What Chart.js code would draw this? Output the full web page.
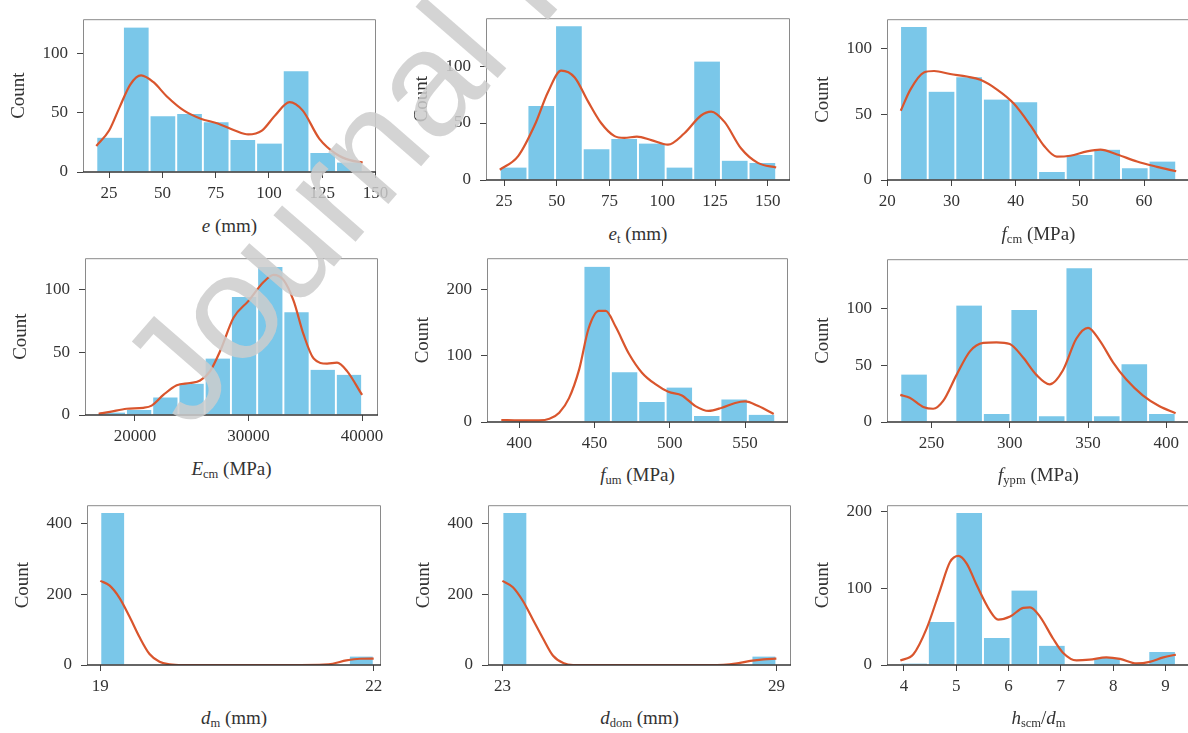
<!DOCTYPE html>
<html><head><meta charset="utf-8">
<script src="https://cdn.jsdelivr.net/npm/chart.js@4.4.0/dist/chart.umd.min.js"></script>
<style>
html,body{margin:0;padding:0;background:#fff;width:1188px;height:733px;overflow:hidden;position:relative;}
canvas{position:absolute;}
.xl{position:absolute;font-family:'Liberation Serif','Times New Roman',serif;font-size:19px;color:#333;white-space:nowrap;transform:translate(-50%,-50%);line-height:1;}
.xl sub{font-size:66%;vertical-align:-0.3em;line-height:0;}
#wm{position:absolute;left:0;top:0;pointer-events:none;}
</style></head><body>
<script>
// ---------- data ----------
const eCenters = [25.25, 37.75, 50.25, 62.75, 75.25, 87.75, 100.25, 112.75, 125.25, 137.75];
const eCounts  = [29, 122, 47, 49, 42, 27, 24, 85, 16, 8];
const eKdeX = [19, 25, 30, 35, 40, 45.7, 52, 60, 68, 76, 84, 90.3, 96.7, 103, 109.7, 115.8, 123.7, 131.7, 138, 144];
const eKdeY = [22, 35, 55, 74, 81.5, 76, 64, 52, 45, 41, 35, 31.7, 35, 48, 59, 52, 28, 15, 10, 8];
const eXTicks = [25, 50, 75, 100, 125, 150];
const eYTicks = [0, 50, 100];

const etCenters = [29.55, 42.65, 55.75, 68.85, 81.95, 95.05, 108.15, 121.25, 134.35, 147.45];
const etCounts  = [11, 65, 135, 27, 36, 32, 11, 104, 17, 15];
const etKdeX = [23, 31.6, 39.5, 45.8, 52.1, 58.5, 64.8, 71, 77.4, 82, 88, 94.8, 102.7, 110.5, 118.4, 123.2, 129.5, 137.4, 145.3, 154];
const etKdeY = [9, 20.7, 48, 77, 96, 90, 69, 50, 38.5, 37, 38, 35, 31, 41, 56.6, 60, 51, 27.6, 15, 11];
const etXTicks = [25, 50, 75, 100, 125, 150];
const etYTicks = [0, 50, 100];

const fcCenters = [24.15, 28.45, 32.75, 37.05, 41.35, 45.65, 49.95, 54.25, 58.55, 62.85];
const fcCounts  = [116, 67, 78, 61, 59, 6, 19, 23, 9, 14];
const fcKdeX = [22.1, 23.6, 25.7, 27.3, 29.8, 32.4, 34.5, 37.1, 39.7, 42.3, 44.4, 46.4, 48.5, 51.1, 53.2, 55.8, 58.9, 62, 65];
const fcKdeY = [52.5, 68.6, 81.6, 82.7, 80.4, 78.5, 76, 68.6, 58, 41.4, 26, 17.7, 18.4, 21.7, 23, 19.4, 14, 10, 6.6];
const fcXTicks = [20, 30, 40, 50, 60];
const fcYTicks = [0, 50, 100];

const ecCenters = [18055, 20365, 22675, 24985, 27295, 29605, 31915, 34225, 36535, 38845];
const ecCounts  = [2, 4, 14, 25, 45, 94, 118, 82, 36, 32];
const ecKdeX = [16800, 17794, 19265, 20735, 21470, 22500, 23676, 24853, 25735, 26618, 27500, 28676, 30000, 31323, 32206, 33088, 33970, 34853, 35735, 36912, 37794, 38676, 40000];
const ecKdeY = [1, 2.5, 5, 5.75, 7.5, 16, 23.75, 25.5, 27.5, 35, 51, 77.5, 91, 106, 111.75, 107.5, 91, 64, 45, 41, 41.75, 35, 16];
const ecXTicks = [20000, 30000, 40000];
const ecYTicks = [0, 50, 100];

const fuCenters = [397.1, 415.3, 433.5, 451.7, 469.9, 488.1, 506.3, 524.5, 542.7, 560.9];
const fuCounts  = [3, 0, 0, 234, 75, 30, 52, 9, 34, 11];
const fuKdeX = [388, 400, 413, 420, 426.5, 433, 439.7, 446, 452.9, 457.4, 464, 472.8, 481.6, 490.4, 499, 508, 517, 525.7, 534.6, 543.4, 550, 558.8, 569];
const fuKdeY = [3, 2.4, 2.4, 4.8, 14, 36, 79, 141, 167.5, 167.5, 143.5, 103, 74, 57, 45.5, 40, 24, 16.7, 21.5, 28.7, 31, 24, 12];
const fuXTicks = [400, 450, 500, 550];
const fuYTicks = [0, 100, 200];

const fyCenters = [238.8, 256.4, 274, 291.6, 309.2, 326.8, 344.4, 362, 379.6, 397.2];
const fyCounts  = [42, 0, 103, 7, 99, 5, 136, 5, 51, 7];
const fyKdeX = [230, 236, 244.7, 251, 257.4, 266, 274.5, 283, 291.5, 300, 308.5, 317, 325.5, 334, 342.5, 350, 357.4, 366, 374.5, 385, 395.7, 406];
const fyKdeY = [24, 21.4, 13.3, 11.7, 18.6, 41.7, 62.5, 70, 70.5, 69, 57, 41.7, 33.3, 45.8, 73.6, 83.3, 72.2, 52.8, 37.5, 23.6, 13.9, 7.8];
const fyXTicks = [250, 300, 350, 400];
const fyYTicks = [0, 50, 100];

const dmCenters = [19.136, 19.409, 19.682, 19.955, 20.227, 20.5, 20.773, 21.045, 21.318, 21.591, 21.864];
const dmCounts  = [430, 0, 0, 0, 0, 0, 0, 0, 0, 0, 24];
const dmKdeX = [19, 19.1, 19.21, 19.32, 19.43, 19.54, 19.65, 19.76, 19.9, 20.5, 21.2, 21.45, 21.55, 21.7, 21.85, 22];
const dmKdeY = [238, 225, 190, 137, 79, 31, 9, 2, 0, 0, 0, 1, 3.5, 13, 17.7, 18];
const dmXTicks = [19, 22];
const dmYTicks = [0, 200, 400];

const ddCenters = [23.273, 23.818, 24.364, 24.909, 25.455, 26, 26.545, 27.091, 27.636, 28.182, 28.727];
const ddCounts  = [430, 0, 0, 0, 0, 0, 0, 0, 0, 0, 24];
const ddKdeX = [23, 23.23, 23.45, 23.67, 23.89, 24.11, 24.33, 24.55, 25.5, 26.5, 27.5, 27.84, 28.14, 28.43, 28.72, 29];
const ddKdeY = [238, 220, 181, 128, 75, 26, 6, 0, 0, 0, 0, 0.5, 4.4, 11.5, 16, 18];
const ddXTicks = [23, 29];
const ddYTicks = [0, 200, 400];

const hrCenters = [4.1935, 4.7205, 5.2475, 5.7745, 6.3015, 6.8285, 7.3555, 7.8825, 8.4095, 8.9365];
const hrCounts  = [2, 56, 198, 35, 97, 25, 0, 9, 0, 17];
const hrKdeX = [3.93, 4.18, 4.43, 4.69, 4.88, 5.04, 5.2, 5.39, 5.64, 5.8, 6.03, 6.28, 6.41, 6.6, 6.85, 7.04, 7.3, 7.55, 7.87, 8.13, 8.45, 8.7, 8.96, 9.2];
const hrKdeY = [6, 14, 47, 97.6, 134, 142, 132, 104, 71, 59, 63, 74.4, 75, 63, 34.5, 16, 6, 7, 10, 8, 2, 4, 10, 13.4];
const hrXTicks = [4, 5, 6, 7, 8, 9];
const hrYTicks = [0, 100, 200];

// ---------- layout (panel boxes: left, top, right, bottom) ----------
const panels = [
  {c:eCenters,  n:eCounts,  kx:eKdeX,  ky:eKdeY,  xt:eXTicks,  yt:eYTicks,  xmin:12.75, xmax:150.25, ymax:129, box:[83,8,376,172],   lab:'<i>e</i> (mm)', ly:225},
  {c:etCenters, n:etCounts, kx:etKdeX, ky:etKdeY, xt:etXTicks, yt:etYTicks, xmin:16.45, xmax:160.55, ymax:142, box:[486,7,790,180],  lab:'<i>e</i><sub>t</sub> (mm)', ly:233},
  {c:fcCenters, n:fcCounts, kx:fcKdeX, ky:fcKdeY, xt:fcXTicks, yt:fcYTicks, xmin:19.96, xmax:67.15, ymax:122, box:[887,8,1190,180],  lab:'<i>f</i><sub>cm</sub> (MPa)', ly:233},
  {c:ecCenters, n:ecCounts, kx:ecKdeX, ky:ecKdeY, xt:ecXTicks, yt:ecYTicks, xmin:15600, xmax:41400, ymax:125, box:[85,247,378,415],  lab:'<i>E</i><sub>cm</sub> (MPa)', ly:468},
  {c:fuCenters, n:fuCounts, kx:fuKdeX, ky:fuKdeY, xt:fuXTicks, yt:fuYTicks, xmin:378.5, xmax:578.5, ymax:247, box:[487,247,788,422], lab:'<i>f</i><sub>um</sub> (MPa)', ly:474},
  {c:fyCenters, n:fyCounts, kx:fyKdeX, ky:fyKdeY, xt:fyXTicks, yt:fyYTicks, xmin:221.5, xmax:415.2, ymax:144, box:[887,248,1190,422], lab:'<i>f</i><sub>ypm</sub> (MPa)', ly:474},
  {c:dmCenters, n:dmCounts, kx:dmKdeX, ky:dmKdeY, xt:dmXTicks, yt:dmYTicks, xmin:18.854, xmax:22.08, ymax:452, box:[87,494,381,665], lab:'<i>d</i><sub>m</sub> (mm)', ly:717},
  {c:ddCenters, n:ddCounts, kx:ddKdeX, ky:ddKdeY, xt:ddXTicks, yt:ddYTicks, xmin:22.685, xmax:29.32, ymax:452, box:[488,494,791,665], lab:'<i>d</i><sub>dom</sub> (mm)', ly:717},
  {c:hrCenters, n:hrCounts, kx:hrKdeX, ky:hrKdeY, xt:hrXTicks, yt:hrYTicks, xmin:3.675, xmax:9.47, ymax:208, box:[887,494,1190,665], lab:'<i>h</i><sub>scm</sub>/<i>d</i><sub>m</sub>', ly:717}
];

const PADL = 80, PADT = 8, PADR = 24, XH = 36;
const FONT = "'Liberation Serif','Times New Roman',serif";
const BAR = 'rgb(122,199,233)';
const KDE = '#d9552d';

const framePlugin = {
  id: 'frame',
  afterDatasetsDraw(chart) {
    const {ctx, chartArea: a} = chart;
    ctx.save();
    ctx.strokeStyle = '#8a8a8a';
    ctx.lineWidth = 1;
    ctx.beginPath();
    ctx.moveTo(a.left + 0.5, a.bottom);
    ctx.lineTo(a.left + 0.5, a.top + 0.5);
    ctx.lineTo(a.right - 0.5, a.top + 0.5);
    ctx.lineTo(a.right - 0.5, a.bottom);
    ctx.stroke();
    ctx.strokeStyle = '#333';
    ctx.lineWidth = 1.4;
    ctx.beginPath();
    ctx.moveTo(a.left, a.bottom);
    ctx.lineTo(a.right, a.bottom);
    ctx.stroke();
    ctx.restore();
  }
};

panels.forEach((p, i) => {
  const [L, T, R, B] = p.box;
  const cv = document.createElement('canvas');
  const w = (R - L) + PADL + PADR, h = (B - T) + PADT + XH;
  cv.width = w; cv.height = h;
  cv.style.left = (L - PADL) + 'px';
  cv.style.top = (T - PADT) + 'px';
  cv.style.width = w + 'px'; cv.style.height = h + 'px';
  document.body.appendChild(cv);

  new Chart(cv.getContext('2d'), {
    type: 'bar',
    data: {
      datasets: [
        {
          type: 'line',
          data: p.kx.map((x, j) => ({x: x, y: p.ky[j]})),
          borderColor: KDE, borderWidth: 2.2, pointRadius: 0,
          cubicInterpolationMode: 'monotone', fill: false, order: 0
        },
        {
          type: 'bar',
          data: p.c.map((x, j) => ({x: x, y: p.n[j]})),
          backgroundColor: BAR, borderColor: '#ffffff',
          borderWidth: {left: 1.3, right: 1.3, top: 0, bottom: 0},
          borderSkipped: false,
          barPercentage: 1, categoryPercentage: 1, order: 1
        }
      ]
    },
    options: {
      responsive: false, animation: false, devicePixelRatio: 1,
      layout: {padding: {top: PADT, right: PADR, left: 0, bottom: 0}},
      plugins: {legend: {display: false}, tooltip: {enabled: false}},
      scales: {
        x: {
          type: 'linear', min: p.xmin, max: p.xmax, offset: false,
          grid: {offset: false, drawOnChartArea: false, drawTicks: true, tickLength: 6, color: '#444', lineWidth: 1},
          border: {display: false},
          afterBuildTicks: s => { s.ticks = p.xt.map(v => ({value: v})); },
          afterFit: s => { s.height = XH; },
          ticks: {font: {family: FONT, size: 17, lineHeight: 1.2}, color: '#333', padding: 5, maxRotation: 0, autoSkip: false,
                  callback: v => String(v)}
        },
        y: {
          type: 'linear', min: 0, max: p.ymax,
          grid: {drawOnChartArea: false, drawTicks: true, tickLength: 6, color: '#444', lineWidth: 1},
          border: {display: false},
          afterBuildTicks: s => { s.ticks = p.yt.map(v => ({value: v})); },
          afterFit: s => { s.width = PADL; },
          ticks: {font: {family: FONT, size: 17}, color: '#333', padding: 9, autoSkip: false,
                  callback: v => String(v)},
          title: {display: true, text: 'Count', font: {family: FONT, size: 19, lineHeight: 1.2}, color: '#333',
                  padding: {top: 5, bottom: 0}}
        }
      }
    },
    plugins: [framePlugin]
  });

  const lab = document.createElement('div');
  lab.className = 'xl';
  lab.innerHTML = p.lab;
  lab.style.left = ((L + R) / 2) + 'px';
  lab.style.top = p.ly + 'px';
  document.body.appendChild(lab);
});

// watermark
const svgNS = 'http://www.w3.org/2000/svg';
const svg = document.createElementNS(svgNS, 'svg');
svg.setAttribute('id', 'wm'); svg.setAttribute('width', '1188'); svg.setAttribute('height', '733');
const t = document.createElementNS(svgNS, 'text');
t.setAttribute('x', '190'); t.setAttribute('y', '432');
t.setAttribute('transform', 'rotate(-49 190 432)');
t.setAttribute('font-family', "'Liberation Sans', Arial, sans-serif");
t.setAttribute('font-size', '150');
t.setAttribute('fill', 'rgb(205,205,205)');
t.setAttribute('fill-opacity', '0.85');
t.textContent = 'Journal Pre-proof';
svg.appendChild(t);
document.body.appendChild(svg);
</script>
</body></html>
